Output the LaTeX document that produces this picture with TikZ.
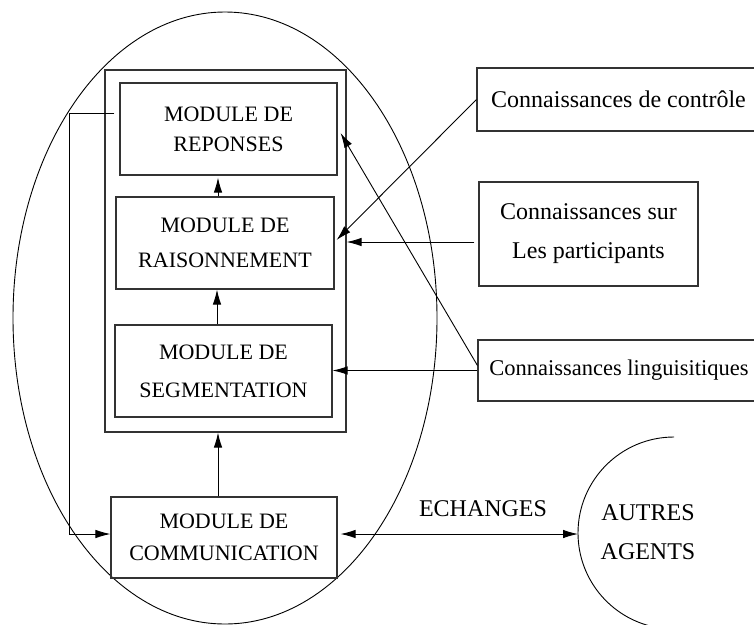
\documentclass[tikz,border=0pt]{standalone}
\usepackage{fontspec}
\setmainfont{Liberation Serif}
\usetikzlibrary{arrows.meta,calc}
\begin{document}
\begin{tikzpicture}[x=1pt,y=-1pt,
  line width=0.9pt,
  arr/.style={-{Latex[length=15pt,width=8.5pt]}},
  dbl/.style={{Latex[length=15pt,width=8.5pt]}-{Latex[length=15pt,width=8.5pt]}},
  modbox/.style={draw=black!80,line width=1.1pt,inner sep=0pt,align=center},
  knbox/.style={draw=black!80,line width=1.1pt,inner sep=0pt,align=center},
  lbl/.style={inner sep=0pt,align=center}]
\useasboundingbox (0,0) rectangle (754,624);
\clip (0,0) rectangle (754,624);
% big ellipse
\draw (225,318) ellipse [x radius=212pt, y radius=306pt];
% frame around the three modules
\node[modbox,minimum width=241pt,minimum height=362pt] (frame) at (225.5,251) {};
\node[modbox,minimum width=217pt,minimum height=92pt,font=\fontsize{22}{30}\selectfont] (rep) at (228.5,129) {MODULE DE\\REPONSES};
\node[modbox,minimum width=218pt,minimum height=92pt,font=\fontsize{22}{35}\selectfont] (rai) at (225,243) {MODULE DE\\RAISONNEMENT};
\node[modbox,minimum width=217pt,minimum height=92pt,font=\fontsize{22}{38}\selectfont] (seg) at (223.5,371) {MODULE DE\\SEGMENTATION};
\node[modbox,minimum width=226pt,minimum height=81pt,font=\fontsize{22}{32}\selectfont] (com) at (224,537.5) {MODULE DE\\COMMUNICATION};
% knowledge boxes
\node[knbox,minimum width=283pt,minimum height=63pt,font=\fontsize{24}{30}\selectfont] (ctrl) at (618.5,99.5) {Connaissances de contrôle};
\node[knbox,minimum width=219pt,minimum height=104pt,font=\fontsize{24}{39}\selectfont] (part) at (588.5,234) {Connaissances sur\\Les participants};
\node[knbox,minimum width=282pt,minimum height=61pt,font=\fontsize{22.5}{30}\selectfont] (ling) at (619,370.5) {Connaissances linguisitiques};
% other agents
\coordinate (agtop) at (674,437);
\draw (agtop) arc[start angle=90,end angle=262,radius=96pt];
\coordinate (agl) at (578,534);
\node[lbl,font=\fontsize{24}{39}\selectfont] (agents) at (648,532) {AUTRES\\AGENTS};
% vertical flow
\coordinate (xa) at (218,0);
\coordinate (xb) at (217,0);
\draw[arr] (xa |- rai.north) -- ($(xa |- rep.south)+(0,2)$);
\draw[arr] (xb |- seg.north) -- (xb |- rai.south);
\draw[arr] (xa |- com.north) -- (xa |- frame.south);
% feedback loop on the left
\coordinate (ly) at (0,113);
\coordinate (lx) at (69,0);
\draw[arr] ($(rep.west |- ly)+(-5,0)$) -- (lx |- ly) -- (lx |- 0,534) -- (com.west |- 0,534);
% knowledge arrows
\draw[arr] (ctrl.west) -- ($(rai.east)+(2,-3)$);
\coordinate (py) at (0,242);
\draw[arr] ($(part.west |- py)+(-4,0)$) -- (frame.east |- py);
\draw[arr] ($(ling.west)+(0,-5)$) -- ($(rep.east)+(3,4)$);
\draw[arr] (ling.west) -- (seg.east |- ling.west);
% exchanges
\draw[dbl] ($(com.east)+(3,-3.5)$) -- (agl);
\node[lbl,font=\fontsize{24}{30}\selectfont] (ech) at (483,509) {ECHANGES};
\end{tikzpicture}
\end{document}
